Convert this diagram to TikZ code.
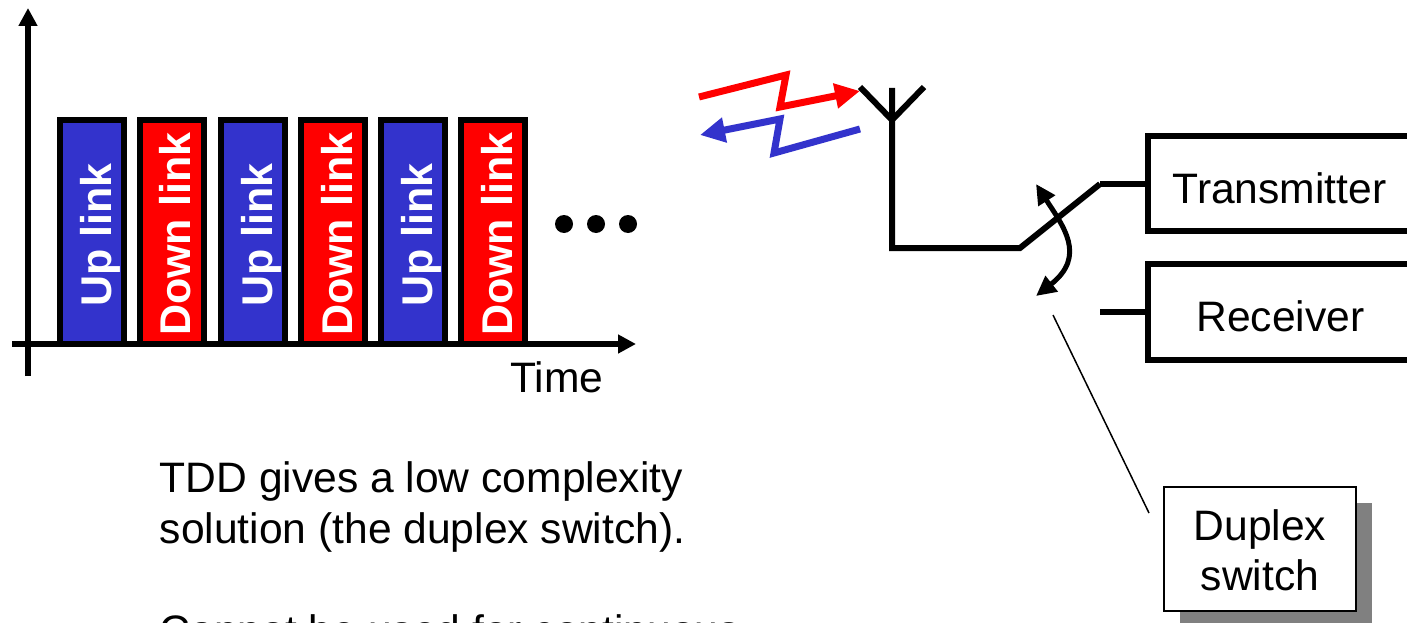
\documentclass[tikz,border=0pt]{standalone}
\usepackage{fontspec}
\setmainfont{Liberation Sans}
\usetikzlibrary{arrows.meta}
\definecolor{upblue}{HTML}{3333CC}
\tikzset{
  x=1pt,y=-1pt,
  bar/.style={draw=black,line width=6pt,inner sep=0pt,minimum width=64pt,minimum height=224pt},
  upbar/.style={bar,fill=upblue},
  downbar/.style={bar,fill=red},
  barlabel/.style={rotate=90,anchor=base west,inner sep=0pt,text=white,font=\fontsize{43}{50}\selectfont\bfseries},
  txt/.style={inner sep=0pt,anchor=base west,font=\fontsize{42.6}{50}\selectfont},
  ctxt/.style={inner sep=0pt,anchor=base,font=\fontsize{42.6}{50}\selectfont},
  wire/.style={line width=6pt,line cap=butt,line join=miter},
  radiored/.style={draw=red,line width=7pt,line join=miter,-{Triangle[length=25pt,width=24pt]}},
  radioblue/.style={draw=upblue,line width=7pt,line join=miter,-{Triangle[length=25pt,width=24pt]}},
  axis/.style={line width=6pt,-{Triangle[length=18pt,width=18pt]}},
  unitbox/.style={draw=black,line width=6pt,fill=white,inner sep=0pt},
  dot/.style={circle,fill=black,inner sep=0pt,minimum size=18pt},
}
\begin{document}
\begin{tikzpicture}
\useasboundingbox (0,0) rectangle (1407,623);
\clip (0,0) rectangle (1407,623);
\fill[white] (0,0) rectangle (1407,623);

% time slots
\node[upbar]   (s1) at (92,232) {};
\node[downbar] (s2) at (172,232) {};
\node[upbar]   (s3) at (253,232) {};
\node[downbar] (s4) at (333,232) {};
\node[upbar]   (s5) at (413,232) {};
\node[downbar] (s6) at (493,232) {};
\node[barlabel] (l1) at (111,307) {Up link};
\node[barlabel] (l2) at (190,336) {Down link};
\node[barlabel] (l3) at (272,307) {Up link};
\node[barlabel] (l4) at (352,336) {Down link};
\node[barlabel] (l5) at (432,307) {Up link};
\node[barlabel] (l6) at (512,336) {Down link};

% axes
\coordinate (xa) at (12,344);
\coordinate (xb) at (636,344);
\coordinate (ya) at (28,376);
\coordinate (yb) at (28,8);
\draw[axis] (xa) -- (xb);
\draw[axis] (ya) -- (yb);
\node[txt] (time) at (510,392) {Time};

% dots
\node[dot] (d1) at (564,224) {};
\node[dot] (d2) at (596,224) {};
\node[dot] (d3) at (628,224) {};

% text
\node[txt] (t1) at (159.5,492) {TDD gives a low complexity};
\node[txt] (t2) at (159.5,543) {solution (the duplex switch).};
\node[txt] (t3) at (159.5,645) {Cannot be used for continuous};

% radio links
\coordinate (ra) at (699,97);
\coordinate (rb) at (786,75);
\coordinate (rc) at (780,107);
\coordinate (rd) at (860,91);
\draw[radiored] (ra) -- (rb) -- (rc) -- (rd);
\coordinate (ba) at (860,129);
\coordinate (bb) at (774,153);
\coordinate (bc) at (780,119);
\coordinate (bd) at (700,135);
\draw[radioblue] (ba) -- (bb) -- (bc) -- (bd);

% antenna and switch
\coordinate (al) at (860,87);
\coordinate (ac) at (892,120);
\coordinate (ar) at (924,87);
\coordinate (at) at (892,88);
\coordinate (ab) at (892,248);
\coordinate (sw) at (1020,248);
\coordinate (sh) at (1100,184);
\coordinate (rs) at (1100,312);
\draw[wire] (al) -- (ac) -- (ar);
\draw[wire] (at) -- (ab) -- (sw) -- (sh);

% units
\node[unitbox,minimum width=300pt,minimum height=95pt] (tx) at (1298,183.5) {};
\node[unitbox,minimum width=300pt,minimum height=96pt] (rx) at (1298,312) {};
\node[ctxt] (txl) at (1279.5,203) {Transmitter};
\node[ctxt] (rxl) at (1280.5,331) {Receiver};
\draw[wire] (sh) -- (tx.west |- sh);
\draw[wire] (rs) -- (rx.west |- rs);

% switch motion
\coordinate (ca) at (1036,184);
\coordinate (cb) at (1036,296);
\draw[line width=5pt,{Triangle[length=20pt,width=19pt]}-{Triangle[length=20pt,width=19pt]}]
  (ca) .. controls (1063,226) and (1087,256) .. (cb);

% callout
\fill[black!50] (1180,503) rectangle (1372,630);
\node[draw=black,line width=2pt,fill=white,inner sep=0pt,minimum width=192pt,minimum height=124pt] (dx) at (1260,549) {};
\node[ctxt] (dxa) at (1260,540) {Duplex};
\node[ctxt] (dxb) at (1260,590) {switch};
\coordinate (la) at (1053,315);
\coordinate (lb) at (1149,513);
\draw[line width=1.5pt] (la) -- (lb);
\end{tikzpicture}
\end{document}
